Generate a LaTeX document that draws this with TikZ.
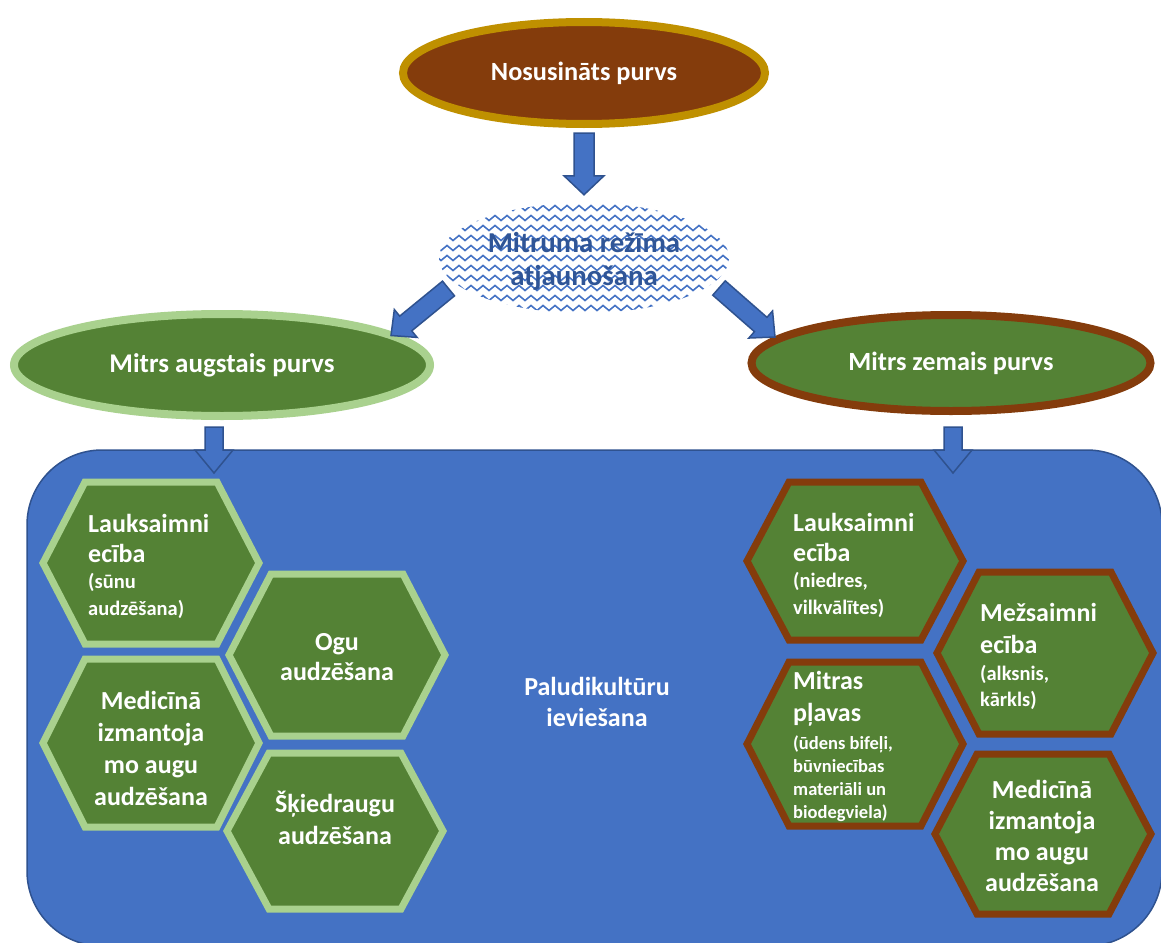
\documentclass[tikz,border=0pt]{standalone}
\usepackage{fontspec}
\setmainfont{Carlito}
\usetikzlibrary{shapes.geometric,calc,decorations.pathmorphing}
\definecolor{brownc}{HTML}{843C0C}
\definecolor{goldc}{HTML}{BF9000}
\definecolor{greenc}{HTML}{548235}
\definecolor{lgreen}{HTML}{A9D18E}
\definecolor{bluec}{HTML}{4472C4}
\definecolor{bluedark}{HTML}{2F528F}
\definecolor{wavetext}{HTML}{2F5597}
\tikzset{
  ellbox/.style={ellipse, inner sep=0pt, line width=8pt, fill=greenc, text=white,
    font=\bfseries\fontsize{26.3}{31}\selectfont},
  basebox/.style={rectangle, draw=bluedark, fill=bluec, line width=1.5pt,
    rounded corners=75pt, inner sep=0pt},
  blockarrow/.style={fill=bluec, draw=bluedark, line width=1.5pt, line join=miter},
  hexgreen/.style={fill=greenc, draw=lgreen, line width=7pt, line join=miter},
  hexbrown/.style={fill=greenc, draw=brownc, line width=7pt, line join=miter},
  hextext/.style={text=white, inner sep=0pt, font=\bfseries\fontsize{26}{31}\selectfont},
  wavepat/.style={draw=bluec, line width=1.6pt, decorate,
    decoration={zigzag, segment length=12pt, amplitude=2.5pt}},
  wavelabel/.style={text=wavetext, inner sep=0pt, align=center,
    font=\bfseries\fontsize{28.8}{33}\selectfont},
}
\newcommand\subA{\fontsize{20.5}{25}\selectfont}
\newcommand\subB{\fontsize{18.5}{22}\selectfont}
\newcommand\hexat[4]{%
  \draw[#4] (#1-108,#2) -- (#1-66,#2-#3) -- (#1+66,#2-#3) -- (#1+108,#2)
    -- (#1+66,#2+#3) -- (#1-66,#2+#3) -- cycle;}
\newcommand\barrow[5]{%
  \coordinate (bh) at ($(#2)!#5pt!(#1)$);
  \draw[blockarrow] ($(#1)!#3pt!90:(#2)$) -- ($(bh)!#3pt!90:(#2)$)
    -- ($(bh)!#4pt!90:(#2)$) -- (#2) -- ($(bh)!#4pt!-90:(#2)$)
    -- ($(bh)!#3pt!-90:(#2)$) -- ($(#1)!#3pt!-90:(#2)$) -- cycle;}
\begin{document}
\begin{tikzpicture}[x=1pt,y=-1pt]
\useasboundingbox (0,0) rectangle (1161,942);
\fill[white] (0,0) rectangle (1161,942);

% base area
\node[basebox, minimum width=1135pt, minimum height=496pt] (base) at (594.5,698) {};

% top ellipse
\node[ellbox, fill=brownc, draw=goldc, minimum width=362pt, minimum height=102pt] (drained) at (584,73) {Nosusināts purvs};

% wavy ellipse
\coordinate (wc) at (584,258);
\begin{scope}
  \clip (wc) ellipse [x radius=145pt, y radius=55pt];
  \foreach \r in {0,...,12}
    \draw[wavepat] ($(wc)+(-152,-60+10*\r)$) -- ++(304,0);
\end{scope}
\node[wavelabel, minimum width=290pt, minimum height=110pt, ellipse] (wave) at (wc) {};
\node[wavelabel] (wavetxt) at ($(wc)+(0,3)$) {Mitruma režīma\\atjaunošana};

% second level ellipses
\node[ellbox, draw=lgreen, minimum width=416pt, minimum height=102pt, font=\bfseries\fontsize{27}{31}\selectfont] (high) at (222,365) {\raisebox{-2pt}{Mitrs augstais purvs}};
\node[ellbox, draw=brownc, minimum width=399pt, minimum height=96pt] (low) at (951,363) {Mitrs zemais purvs};

% arrows
\coordinate (a1s) at ($(drained.south)+(0,5)$);
\coordinate (a1e) at ($(wave.north)+(0,-8)$);
\barrow{a1s}{a1e}{10}{20}{19}
\coordinate (a2s) at ($(wave.center)+(-135.5,30.5)$);
\coordinate (a2e) at ($(high.center)+(169,-29.5)$);
\barrow{a2s}{a2e}{9.5}{18}{19}
\coordinate (a3s) at ($(wave.center)+(135,30)$);
\coordinate (a3e) at ($(low.center)+(-176,-26)$);
\barrow{a3s}{a3e}{9.5}{18}{19}
\coordinate (a4s) at ($(high.south)+(-8,7)$);
\coordinate (a4e) at ($(high.south)+(-8,53)$);
\barrow{a4s}{a4e}{9}{19}{23}
\coordinate (a5s) at ($(low.south)+(2,12)$);
\coordinate (a5e) at ($(low.south)+(2,58)$);
\barrow{a5s}{a5e}{9}{19}{23}

% centre label
\node[hextext, align=center] (palu) at (597,702) {Paludikultūru\\ieviešana};

% left hexagons
\hexat{151}{563}{81}{hexgreen}
\hexat{337}{655}{81}{hexgreen}
\hexat{151}{743}{84}{hexgreen}
\hexat{335}{831}{78}{hexgreen}
\node[hextext, align=left, anchor=west] (h1) at (88,566)
  {Lauksaimni\\[-1pt]ecība\\[-5pt]{\subA (sūnu}\\[-4pt]{\subA audzēšana)}};
\node[hextext, align=center] (h2) at (337,657) {Ogu\\[-1pt]audzēšana};
\node[hextext, align=center] (h3) at (151,748) {Medicīnā\\[1pt]izmantoja\\[1pt]mo augu\\[1pt]audzēšana};
\node[hextext, align=center] (h4) at (335,818) {Šķiedraugu\\[1pt]audzēšana};

% right hexagons
\hexat{855}{561}{79}{hexbrown}
\hexat{1045}{653}{81}{hexbrown}
\hexat{855}{744}{82}{hexbrown}
\hexat{1043}{834}{80}{hexbrown}
\node[hextext, align=left, anchor=west] (r1) at (793,565)
  {Lauksaimni\\[-1pt]ecība\\[-5pt]{\subA (niedres,}\\[-4pt]{\subA vilkvālītes)}};
\node[hextext, align=left, anchor=west] (r2) at (980,656)
  {Mežsaimni\\[1pt]ecība\\[-4pt]{\subA (alksnis,}\\[-5pt]{\subA kārkls)}};
\node[hextext, align=left, anchor=west] (r3) at (793,746)
  {Mitras\\[1pt]pļavas\\[-3pt]{\subB (ūdens bifeļi,}\\[-8pt]{\subB būvniecības}\\[-8pt]{\subB materiāli un}\\[-8pt]{\subB biodegviela)}};
\node[hextext, align=center] (r4) at (1042,836) {Medicīnā\\izmantoja\\mo augu\\audzēšana};
\end{tikzpicture}
\end{document}
